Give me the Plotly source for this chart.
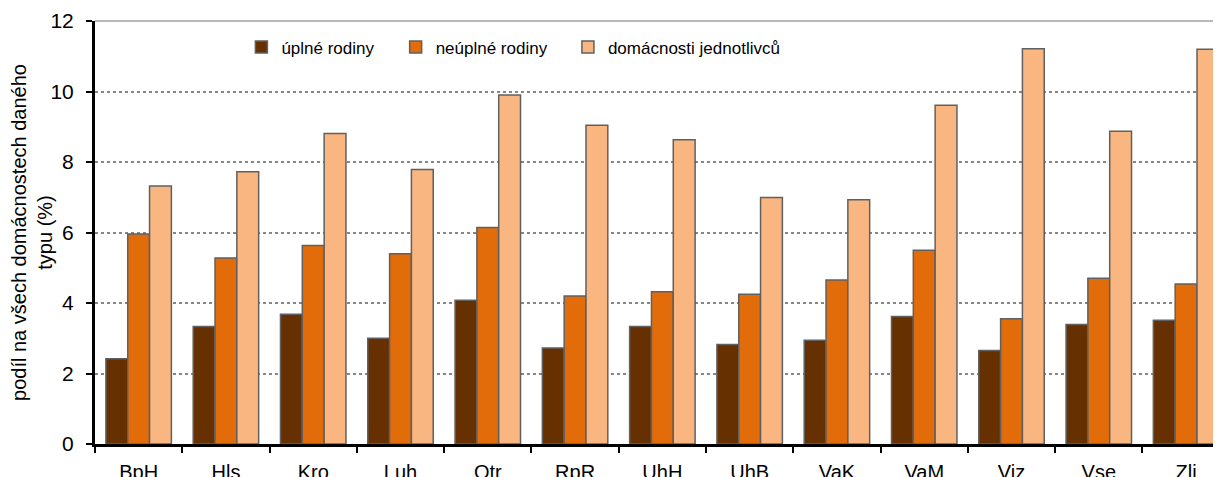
import plotly.graph_objects as go

okresy = ["BpH", "Hls", "Kro", "Luh", "Otr", "RpR", "UhH", "UhB", "VaK", "VaM", "Viz", "Vse", "Zli"]
uplne = [2.42, 3.33, 3.68, 3.00, 4.08, 2.72, 3.33, 2.82, 2.94, 3.62, 2.65, 3.39, 3.51]
neuplne = [5.96, 5.28, 5.63, 5.40, 6.14, 4.20, 4.32, 4.25, 4.65, 5.50, 3.55, 4.70, 4.54]
jednotlivci = [7.32, 7.72, 8.81, 7.79, 9.90, 9.04, 8.63, 6.99, 6.93, 9.61, 11.21, 8.87, 11.20]

series = [
    ("úplné rodiny", uplne, "#663000", "legend"),
    ("neúplné rodiny", neuplne, "#E26B0A", "legend2"),
    ("domácnosti jednotlivců", jednotlivci, "#F9B680", "legend3"),
]

fig = go.Figure()
for name, vals, col, leg in series:
    fig.add_trace(go.Bar(
        x=okresy, y=vals, name=name, legend=leg,
        marker=dict(color=col, line=dict(color="#606060", width=1.5)),
    ))

# each legend item placed on its own, like the Excel legend
leg_style = dict(orientation="h", y=0.98, xanchor="left", yanchor="top",
                 font=dict(size=17), bgcolor="rgba(0,0,0,0)")

# the page has an 8px body margin, so the figure is a bit smaller
fig.update_layout(
    width=1213, height=469,
    margin=dict(l=87, r=0, t=13, b=33),
    plot_bgcolor="white",
    paper_bgcolor="white",
    font=dict(family="Liberation Sans, Arial", size=20, color="black"),
    barmode="group",
    bargap=0.25,
    bargroupgap=0,
    showlegend=True,
    legend=dict(x=0.130, **leg_style),
    legend2=dict(x=0.267, **leg_style),
    legend3=dict(x=0.420, **leg_style),
)

fig.update_xaxes(
    range=[-0.5, 12.4],
    automargin=False,
    showline=True, linecolor="black", linewidth=2.5,
    ticks="outside", tickson="boundaries", ticklen=6, tickwidth=2, tickcolor="black",
    ticklabelstandoff=8,
    showgrid=False,
    tickfont=dict(size=20),
)

fig.update_yaxes(
    range=[0, 12],
    dtick=2,
    automargin=False,
    showline=True, linecolor="black", linewidth=3,
    ticks="outside", ticklen=6, tickwidth=2, tickcolor="black",
    ticklabelstandoff=8,
    showgrid=True, gridcolor="#868686", gridwidth=1.5, griddash="dot",
    zeroline=False,
    tickfont=dict(size=21),
    title=dict(text="podíl na všech domácnostech daného<br>typu (%)", font=dict(size=20), standoff=10),
)

# top edge of the plot area
fig.add_shape(type="line", xref="paper", yref="paper", x0=0, x1=1, y0=1, y1=1,
              line=dict(color="#707070", width=1))

fig.write_html("out.html")
